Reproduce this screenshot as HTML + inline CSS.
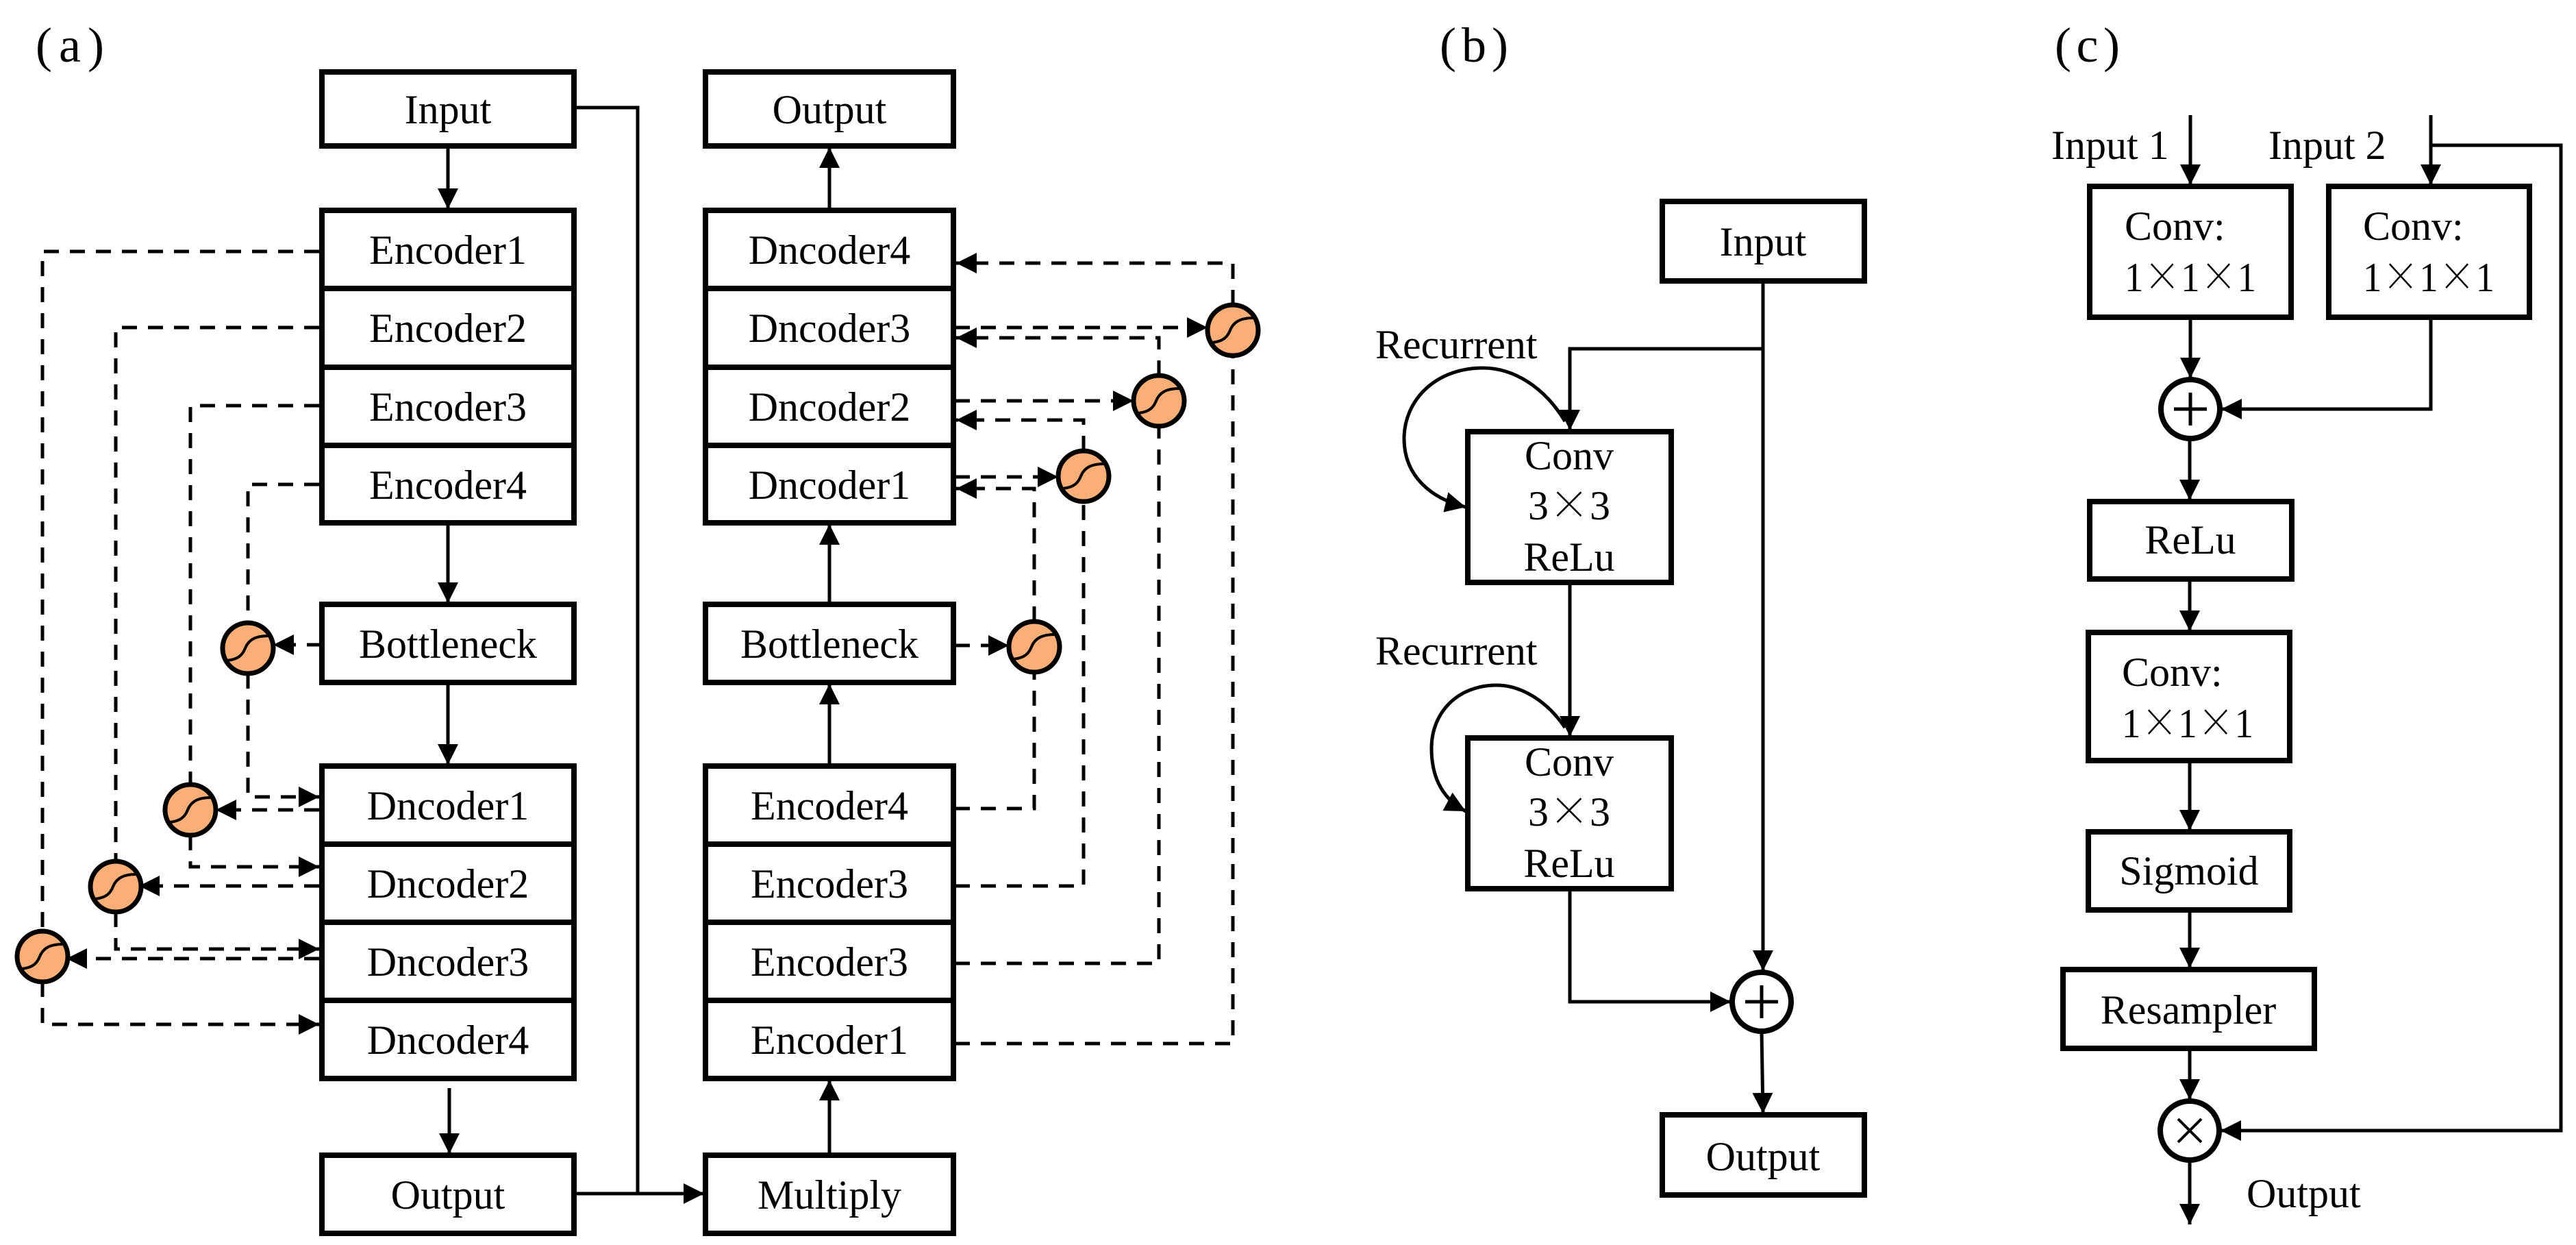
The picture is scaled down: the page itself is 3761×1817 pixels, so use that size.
<!DOCTYPE html>
<html><head><meta charset="utf-8"><style>
html,body{margin:0;padding:0;background:#fff}
svg{display:block}
text{font-family:"Liberation Serif","Noto Serif CJK SC",serif;font-size:60px;fill:#000}
.x{font-family:"Noto Serif CJK SC",serif}
</style></head><body>
<svg width="3761" height="1817" viewBox="0 0 3761 1817" xmlns="http://www.w3.org/2000/svg">
<defs>
<marker id="a" viewBox="0 0 30 30" refX="30" refY="15" markerWidth="30" markerHeight="30" markerUnits="userSpaceOnUse" orient="auto"><path d="M0,0 L30,15 L0,30 z" fill="#000"/></marker>
<g id="sc"><circle r="37" fill="#F9AE78" stroke="#000" stroke-width="7"/><path d="M-30,18 C-14,16 -8,10 -4,0 C0,-10 8,-18 30,-18" fill="none" stroke="#000" stroke-width="4"/></g>
</defs>
<g fill="none" stroke="#000">
<g stroke-width="8">
<rect x="470" y="105" width="368" height="108"/>
<rect x="470" y="307" width="368" height="456"/>
<line x1="470" y1="421" x2="838" y2="421"/><line x1="470" y1="536" x2="838" y2="536"/><line x1="470" y1="650" x2="838" y2="650"/>
<rect x="470" y="882" width="368" height="114"/>
<rect x="470" y="1118" width="368" height="456"/>
<line x1="470" y1="1232" x2="838" y2="1232"/><line x1="470" y1="1346" x2="838" y2="1346"/><line x1="470" y1="1460" x2="838" y2="1460"/>
<rect x="470" y="1686" width="368" height="114"/>
<rect x="1030" y="105" width="362" height="108"/>
<rect x="1030" y="307" width="362" height="456"/>
<line x1="1030" y1="421" x2="1392" y2="421"/><line x1="1030" y1="536" x2="1392" y2="536"/><line x1="1030" y1="650" x2="1392" y2="650"/>
<rect x="1030" y="882" width="362" height="114"/>
<rect x="1030" y="1118" width="362" height="456"/>
<line x1="1030" y1="1232" x2="1392" y2="1232"/><line x1="1030" y1="1346" x2="1392" y2="1346"/><line x1="1030" y1="1460" x2="1392" y2="1460"/>
<rect x="1030" y="1686" width="362" height="114"/>
</g>
<g stroke-width="5">
<path d="M654,213 V305" marker-end="url(#a)"/>
<path d="M654,763 V880" marker-end="url(#a)"/>
<path d="M654,996 V1116" marker-end="url(#a)"/>
<path d="M656,1588 V1684" marker-end="url(#a)"/>
<path d="M1211,1686 V1576" marker-end="url(#a)"/>
<path d="M1211,1118 V998" marker-end="url(#a)"/>
<path d="M1211,882 V765" marker-end="url(#a)"/>
<path d="M1211,307 V215" marker-end="url(#a)"/>
<path d="M838,157 H931 V1742"/>
<path d="M838,1742 H1028" marker-end="url(#a)"/>
</g>
<g stroke-width="5" stroke-dasharray="22,16">
<path d="M466,367 H62 V1359"/><path d="M62,1433 V1495 H466" marker-end="url(#a)"/>
<path d="M466,478 H169 V1257"/><path d="M169,1331 V1385 H466" marker-end="url(#a)"/>
<path d="M466,592 H278 V1145"/><path d="M278,1219 V1265 H466" marker-end="url(#a)"/>
<path d="M466,707 H362 V909"/><path d="M362,983 V1163 H466" marker-end="url(#a)"/>
<path d="M470,941 H399" marker-end="url(#a)"/>
<path d="M466,1182 H315" marker-end="url(#a)"/>
<path d="M466,1293 H203" marker-end="url(#a)"/>
<path d="M466,1399 H97" marker-end="url(#a)"/>
<path d="M1394,942 H1473" marker-end="url(#a)"/>
<path d="M1394,1180 H1510 V981"/><path d="M1510,907 V713 H1396" marker-end="url(#a)"/>
<path d="M1394,696 H1545" marker-end="url(#a)"/>
<path d="M1394,1293 H1582 V732"/><path d="M1582,658 V613 H1396" marker-end="url(#a)"/>
<path d="M1394,585 H1655" marker-end="url(#a)"/>
<path d="M1394,1406 H1692 V622"/><path d="M1692,548 V493 H1396" marker-end="url(#a)"/>
<path d="M1394,478 H1763" marker-end="url(#a)"/>
<path d="M1394,1523 H1800 V519"/><path d="M1800,445 V384 H1396" marker-end="url(#a)"/>
</g>
<g stroke-width="8">
<rect x="2427" y="294" width="295" height="116"/>
<rect x="2143" y="630" width="297" height="220"/>
<rect x="2143" y="1077" width="297" height="220"/>
<rect x="2427" y="1627" width="295" height="117"/>
<circle cx="2572" cy="1462" r="43"/>
<rect x="3051" y="272" width="294" height="191"/>
<rect x="3400" y="272" width="293" height="191"/>
<circle cx="3198" cy="597" r="43"/>
<rect x="3051" y="732" width="295" height="113"/>
<rect x="3049" y="923" width="294" height="187"/>
<rect x="3049" y="1214" width="294" height="114"/>
<rect x="3012" y="1415" width="367" height="115"/>
<circle cx="3197" cy="1650" r="43"/>
</g>
<g stroke-width="5">
<path d="M2574,410 V1417" marker-end="url(#a)"/>
<path d="M2574,509 H2292 V628" marker-end="url(#a)"/>
<path d="M2292,850 V1075" marker-end="url(#a)"/>
<path d="M2285,615 C2255,565 2210,537 2165,537 C2095,537 2050,585 2050,640 C2050,695 2090,728 2140,740" marker-end="url(#a)"/>
<path d="M2285,1062 C2258,1022 2220,1000 2185,1000 C2128,1000 2090,1040 2090,1092 C2090,1140 2110,1168 2140,1184" marker-end="url(#a)"/>
<path d="M2292,1297 V1462 H2527" marker-end="url(#a)"/>
<path d="M2572,1505 L2574,1625" marker-end="url(#a)"/>
<path d="M2548,1462 H2596 M2572,1438 V1486"/>
<path d="M3198,168 V270" marker-end="url(#a)"/>
<path d="M3549,168 V270" marker-end="url(#a)"/>
<path d="M3549,212 H3739 V1650 H3242" marker-end="url(#a)"/>
<path d="M3198,463 V552" marker-end="url(#a)"/>
<path d="M3549,463 V597 H3243" marker-end="url(#a)"/>
<path d="M3174,597 H3222 M3198,573 V621"/>
<path d="M3197,641 V730" marker-end="url(#a)"/>
<path d="M3197,845 V921" marker-end="url(#a)"/>
<path d="M3197,1110 V1212" marker-end="url(#a)"/>
<path d="M3197,1328 V1413" marker-end="url(#a)"/>
<path d="M3197,1530 V1605" marker-end="url(#a)"/>
<path d="M3197,1694 V1787" marker-end="url(#a)"/>
<path d="M3180,1633 L3214,1667 M3214,1633 L3180,1667" stroke-width="4"/>
</g>
</g>
<use href="#sc" x="362" y="946"/><use href="#sc" x="278" y="1182"/><use href="#sc" x="169" y="1294"/><use href="#sc" x="62" y="1396"/>
<use href="#sc" x="1510" y="944"/><use href="#sc" x="1582" y="695"/><use href="#sc" x="1692" y="585"/><use href="#sc" x="1800" y="482"/>
<g text-anchor="middle">
<text x="654" y="180">Input</text>
<text x="654" y="385">Encoder1</text><text x="654" y="499">Encoder2</text><text x="654" y="614">Encoder3</text><text x="654" y="728">Encoder4</text>
<text x="654" y="960">Bottleneck</text>
<text x="654" y="1196">Dncoder1</text><text x="654" y="1310">Dncoder2</text><text x="654" y="1424">Dncoder3</text><text x="654" y="1538">Dncoder4</text>
<text x="654" y="1764">Output</text>
<text x="1211" y="180">Output</text>
<text x="1211" y="385">Dncoder4</text><text x="1211" y="499">Dncoder3</text><text x="1211" y="614">Dncoder2</text><text x="1211" y="728">Dncoder1</text>
<text x="1211" y="960">Bottleneck</text>
<text x="1211" y="1196">Encoder4</text><text x="1211" y="1310">Encoder3</text><text x="1211" y="1424">Encoder3</text><text x="1211" y="1538">Encoder1</text>
<text x="1211" y="1764">Multiply</text>
<text x="2574" y="373">Input</text>
<text x="2291" y="685">Conv</text><text x="2291" y="758">3<tspan class="x">×</tspan>3</text><text x="2291" y="833">ReLu</text>
<text x="2291" y="1132">Conv</text><text x="2291" y="1205">3<tspan class="x">×</tspan>3</text><text x="2291" y="1280">ReLu</text>
<text x="2574" y="1708">Output</text>
<text x="3198" y="808">ReLu</text>
<text x="3196" y="1291">Sigmoid</text>
<text x="3195" y="1494">Resampler</text>
</g>
<text x="2008" y="523">Recurrent</text>
<text x="2008" y="970">Recurrent</text>
<text x="2995" y="232">Input 1</text>
<text x="3312" y="232">Input 2</text>
<text x="3280" y="1762">Output</text>
<text x="3102" y="350">Conv:</text>
<text x="3102" y="425" textLength="192" lengthAdjust="spacingAndGlyphs">1<tspan class="x">×</tspan>1<tspan class="x">×</tspan>1</text>
<text x="3450" y="350">Conv:</text>
<text x="3450" y="425" textLength="192" lengthAdjust="spacingAndGlyphs">1<tspan class="x">×</tspan>1<tspan class="x">×</tspan>1</text>
<text x="3098" y="1001">Conv:</text>
<text x="3098" y="1076" textLength="192" lengthAdjust="spacingAndGlyphs">1<tspan class="x">×</tspan>1<tspan class="x">×</tspan>1</text>
<text x="52" y="90" style="font-size:72px" textLength="100" lengthAdjust="spacing">(a)</text>
<text x="2102" y="90" style="font-size:72px" textLength="100" lengthAdjust="spacing">(b)</text>
<text x="3000" y="90" style="font-size:72px" textLength="95" lengthAdjust="spacing">(c)</text>
</svg>
</body></html>
